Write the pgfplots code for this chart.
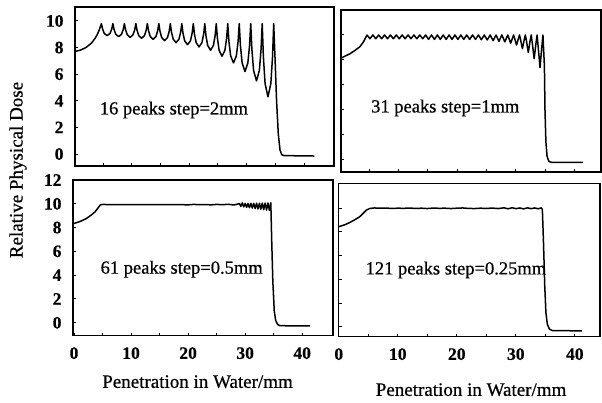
\documentclass[border=0pt]{standalone}
\usepackage{pgfplots}
\pgfplotsset{compat=1.18}
\usepackage{fontspec}
\setmainfont{Liberation Serif}
\newfontfamily\inkfont{Liberation Serif}[FakeBold=0.6]
\newfontfamily\tickfont{Liberation Serif Bold}[FakeBold=0.4]

\pgfplotsset{
  panel/.style={
    scale only axis, anchor=north west,
    axis line style={line width=1.4pt},
    tick align=inside, xtick pos=bottom, ytick pos=left,
    major tick length=3pt, minor tick length=3pt,
    tick style={line width=1pt,black},
    ticklabel style={font=\fontsize{17.5}{17.5}\selectfont\tickfont},
    /pgf/number format/assume math mode=true,
    yticklabel style={xshift=-8pt},
    xticklabel style={yshift=-8pt},
    label style={font=\fontsize{19}{22}\selectfont\inkfont},
  },
  curve/.style={black, line width=1.5pt, line join=round, mark=none},
}
\tikzset{note/.style={font=\fontsize{18.5}{20}\selectfont\inkfont, anchor=center}}

\begin{document}
\begin{tikzpicture}
\useasboundingbox (0pt,0pt) rectangle (602pt,-403pt);

% ---------- top left: 16 peaks ----------
\begin{axis}[panel, at={(75pt,-7pt)}, width=259pt, height=159pt,
  xmin=0.1, xmax=45.2, ymin=-0.9, ymax=11.05,
  xtick={5,10,...,40}, xticklabels={},
  ytick={0,2,...,10}]
\addplot[curve] coordinates {
(0,7.7)(1,7.8)(2,8.0)(3,8.35)(3.6,8.7)(4.0,9.0)(4.35,9.35)
(4.7,9.8)(4.9,9.40)(5.2,9.06)(5.7,8.9)(6.2,9.06)(6.5,9.40)
(6.7,9.8)(6.9,9.36)(7.2,9.0)(7.7,8.82)(8.2,9.0)(8.5,9.36)
(8.7,9.8)(8.9,9.34)(9.2,8.96)(9.7,8.77)(10.2,8.96)(10.5,9.34)
(10.7,9.8)(10.9,9.31)(11.2,8.9)(11.7,8.7)(12.2,8.9)(12.5,9.31)
(12.7,9.8)(12.9,9.27)(13.2,8.83)(13.7,8.62)(14.2,8.83)(14.5,9.27)
(14.7,9.8)(14.9,9.22)(15.2,8.75)(15.7,8.52)(16.2,8.75)(16.5,9.22)
(16.7,9.8)(16.9,9.16)(17.2,8.63)(17.7,8.37)(18.2,8.63)(18.5,9.16)
(18.7,9.8)(18.9,9.09)(19.2,8.5)(19.7,8.22)(20.2,8.5)(20.5,9.09)
(20.7,9.8)(20.9,9.01)(21.2,8.37)(21.7,8.05)(22.2,8.37)(22.5,9.01)
(22.7,9.8)(22.9,8.9)(23.2,8.16)(23.7,7.8)(24.2,8.16)(24.5,8.9)
(24.7,9.8)(24.9,8.7)(25.2,7.79)(25.7,7.35)(26.2,7.79)(26.5,8.7)
(26.7,9.8)(26.9,8.47)(27.2,7.38)(27.7,6.85)(28.2,7.38)(28.5,8.47)
(28.7,9.8)(28.9,8.18)(29.2,6.85)(29.7,6.2)(30.2,6.85)(30.5,8.18)
(30.7,9.8)(30.9,7.87)(31.2,6.27)(31.7,5.5)(32.2,6.27)(32.5,7.87)
(32.7,9.8)(32.9,7.33)(33.2,5.29)(33.7,4.3)(34.2,5.29)(34.5,7.33)
(34.7,9.8)(34.95,7.0)(35.2,4.0)(35.5,1.5)(35.8,0.3)(36.1,-0.05)(36.5,-0.12)(41.8,-0.15)
};
\node[note] at (rel axis cs:0.382,0.352) {16 peaks step=2mm};
\end{axis}

% ---------- top right: 31 peaks ----------
\begin{axis}[panel, at={(341pt,-10pt)}, width=260pt, height=162pt,
  xmin=0.17, xmax=44.5, ymin=-0.96, ymax=12.0,
  xtick={5,10,...,40}, xticklabels={},
  ytick={0,2,...,10}, yticklabels={}]
\addplot[curve] coordinates {
(0,8.1)(0.8,8.3)(1.7,8.5)(2.5,8.75)(3.4,9.06)(4.0,9.45)(4.6,10.0)
(5.1,9.7)(5.6,10)(6.1,9.7)(6.6,10)(7.1,9.7)(7.6,10)(8.1,9.7)(8.6,10)(9.1,9.7)(9.6,10)
(10.1,9.7)(10.6,10)(11.1,9.7)(11.6,10)(12.1,9.7)(12.6,10)(13.1,9.7)(13.6,10)(14.1,9.7)(14.6,10)
(15.1,9.65)(15.6,10)(16.1,9.65)(16.6,10)(17.1,9.65)(17.6,10)(18.1,9.65)(18.6,10)(19.1,9.65)(19.6,10)
(20.1,9.65)(20.6,10)(21.1,9.65)(21.6,10)(22.1,9.65)(22.6,10)(23.1,9.65)(23.6,10)(24.1,9.62)(24.6,10)
(25.1,9.6)(25.6,10)(26.1,9.55)(26.6,10)(27.1,9.5)(27.6,10)(28.1,9.45)(28.6,10)(29.1,9.35)(29.6,10)
(30.1,9.2)(30.6,10)
(30.8,9.6)(31.1,8.9)(31.4,9.6)(31.6,10)
(31.8,9.5)(32.1,8.6)(32.4,9.5)(32.6,10)
(32.8,9.3)(33.1,8.1)(33.4,9.3)(33.6,10)
(33.8,9.0)(34.1,7.4)(34.4,9.0)(34.6,10)
(34.85,7.5)(34.95,4)(35.1,1.5)(35.3,0.3)(35.6,-0.1)(36.0,-0.18)(41.4,-0.2)
};
\node[note] at (rel axis cs:0.401,0.395) {31 peaks step=1mm};
\end{axis}

% ---------- bottom left: 61 peaks ----------
\begin{axis}[panel, at={(73pt,-180pt)}, width=260pt, height=155.7pt,
  xmin=-0.18, xmax=45.4, ymin=-1.09, ymax=12,
  xtick={0,10,...,40}, minor xtick={5,15,...,35},
  ytick={0,2,...,12},
  xlabel={Penetration in Water/mm},
  xlabel style={at={(axis description cs:0.479,0)}, anchor=center, yshift=-46pt}]
\addplot[curve] coordinates {
(0,8.35)(1.0,8.5)(2.2,8.77)(3.0,9.05)(3.7,9.33)(4.2,9.65)(4.6,9.9)(5.0,9.95)
(6,9.93)(8,9.92)(10,9.94)(12,9.92)(14,9.93)(16,9.92)(18,9.94)(20,9.91)(21,9.95)(22,9.92)
(23,9.94)(24,9.91)(25,9.95)(26,9.92)(27,9.96)(28,9.9)(28.5,9.95)
(29.0,10.02)(29.25,9.78)(29.5,10.08)(29.75,9.74)(30.0,10.03)(30.25,9.70)(30.5,10.03)(30.75,9.67)
(31.0,10.04)(31.25,9.64)(31.5,10.04)(31.75,9.60)(32.0,10.05)(32.25,9.57)(32.5,10.05)(32.75,9.54)
(33.0,10.06)(33.25,9.50)(33.5,10.06)(33.75,9.47)(34.0,10.07)(34.25,9.44)(34.5,10.08)
(34.65,7)(34.85,3.5)(35.1,1.0)(35.35,0.2)(35.7,-0.15)(36.1,-0.25)(41.4,-0.27)
};
\node[note] at (rel axis cs:0.418,0.427) {61 peaks step=0.5mm};
\end{axis}

% ---------- bottom right: 121 peaks ----------
\begin{axis}[panel, at={(338.5pt,-183.3pt)}, width=261.5pt, height=153.4pt,
  xmin=-0.05, xmax=44.27, ymin=-0.84, ymax=12.1,
  xtick={0,10,...,40}, minor xtick={5,15,...,35},
  ytick={0,2,...,10}, yticklabels={},
  xlabel={Penetration in Water/mm},
  xlabel style={at={(axis description cs:0.507,0)}, anchor=center, yshift=-53pt}]
\addplot[curve] coordinates {
(0,8.44)(1.0,8.6)(1.9,8.8)(2.8,9.05)(3.6,9.3)(4.2,9.6)(4.7,9.85)(5.3,9.98)(6.0,10.02)
(7,10.0)(8,10.01)(9,9.98)(10,10.0)(11,9.99)(12,10.01)(13,9.98)(14,10.0)(15,9.97)(16,10.01)
(17,9.99)(18,10.0)(19,9.97)(20,10.0)(21,10.02)(22,9.98)(23,9.97)(24,10.0)(25,9.98)(26,10.01)
(27,9.97)(28,10.03)(28.7,9.95)(29.4,10.04)(30,9.96)(30.7,10.02)(31.3,9.94)(32,10.03)
(32.6,9.96)(33.2,10.02)(33.8,9.95)(34.3,10.03)(34.5,9.9)
(34.7,7)(34.9,3.5)(35.1,1.2)(35.35,0.2)(35.7,-0.2)(36.2,-0.32)(41.2,-0.35)
};
\node[note] at (rel axis cs:0.449,0.435) {121 peaks step=0.25mm};
\end{axis}

\node[rotate=90, font=\fontsize{19}{22}\selectfont\inkfont] at (18pt,-170pt) {Relative Physical Dose};
\end{tikzpicture}
\end{document}
